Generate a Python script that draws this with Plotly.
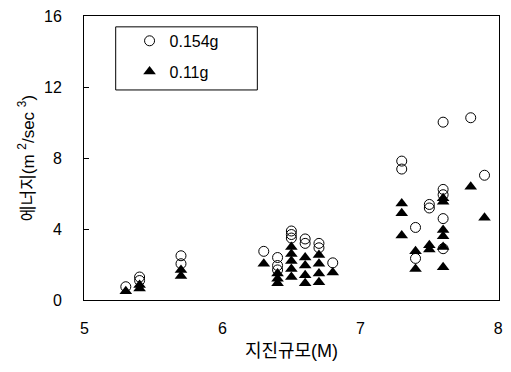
import plotly.graph_objects as go

# Earthquake magnitude (M) vs. energy (m^2/sec^3) for two PGA levels
mag_154 = [5.3, 5.4, 5.4, 5.7, 5.7, 6.3, 6.4, 6.4, 6.4, 6.5, 6.5, 6.5,
           6.6, 6.6, 6.7, 6.7, 6.8, 7.3, 7.3, 7.4, 7.4, 7.5, 7.5,
           7.6, 7.6, 7.6, 7.6, 7.6, 7.8, 7.9]
energy_154 = [0.75, 1.3, 1.1, 2.5, 2.05, 2.75, 2.4, 1.95, 1.7, 3.9, 3.7, 3.5,
              3.45, 3.2, 3.2, 2.95, 2.1, 7.85, 7.4, 4.1, 2.35, 5.4, 5.2,
              10.05, 6.25, 5.95, 4.6, 2.9, 10.3, 7.05]

mag_11 = [5.3, 5.4, 5.4, 5.7, 5.7, 6.3, 6.4, 6.4, 6.4, 6.5, 6.5, 6.5, 6.5, 6.5,
          6.6, 6.6, 6.6, 6.6, 6.7, 6.7, 6.7, 6.7, 6.8, 7.3, 7.3, 7.3,
          7.4, 7.4, 7.5, 7.5, 7.6, 7.6, 7.6, 7.6, 7.6, 7.6, 7.8, 7.9]
energy_11 = [0.5, 0.85, 0.65, 1.7, 1.35, 2.05, 1.5, 1.2, 0.95, 3.0, 2.6, 2.2, 1.75, 1.3,
             2.4, 1.95, 1.4, 0.95, 2.55, 2.05, 1.5, 1.0, 1.55, 5.45, 4.9, 3.65,
             2.75, 1.75, 3.1, 2.85, 5.75, 5.55, 3.95, 3.6, 3.0, 1.85, 6.4, 4.65]

x_ticks = [5, 6, 7, 8]
y_ticks = [0, 4, 8, 12, 16]

FONT = "Liberation Sans, Arial, Noto Sans CJK KR, sans-serif"

fig = go.Figure()
fig.add_trace(go.Scatter(
    x=mag_154, y=energy_154, mode="markers", name="0.154g",
    legendgroup="a",
    marker=dict(symbol="circle-open", size=10, color="black",
                line=dict(width=1, color="black")),
))
fig.add_trace(go.Scatter(
    x=mag_11, y=energy_11, mode="markers", name="0.11g",
    legendgroup="b",
    marker=dict(symbol="triangle-up", size=11, color="black"),
))

# legend frame
fig.add_shape(type="rect", xref="paper", yref="paper",
              x0=(116 - 84) / 419, x1=(259 - 84) / 419,
              y0=(300 - 87) / 288, y1=(300 - 23) / 288,
              line=dict(color="black", width=1), fillcolor="rgba(0,0,0,0)")

fig.update_layout(
    width=511, height=372,
    margin=dict(l=84, r=8, t=12, b=72),
    paper_bgcolor="white", plot_bgcolor="white",
    font=dict(family=FONT, size=15, color="black"),
    showlegend=True,
    legend=dict(x=(130 - 84) / 419, y=(300 - 20) / 288,
                xanchor="left", yanchor="top",
                bgcolor="rgba(0,0,0,0)", borderwidth=0,
                traceorder="grouped", tracegroupgap=7,
                font=dict(family=FONT, size=16),
                itemwidth=30),
    xaxis=dict(range=[4.997, 8.005], tickvals=x_ticks, ticks="",
               showgrid=False, zeroline=False, showline=True,
               linecolor="black", linewidth=1, mirror=True,
               tickfont=dict(size=16), ticklabelstandoff=14,
               title=dict(text="지진규모(M)", font=dict(size=18), standoff=8)),
    yaxis=dict(range=[0, 16.05], tickvals=y_ticks, ticks="inside", ticklen=5,
               tickcolor="black", showgrid=False, zeroline=False, showline=True,
               linecolor="black", linewidth=1, mirror=True,
               tickfont=dict(size=16), ticklabelstandoff=18,
               title=dict(text="에너지(m <sup>2</sup>/sec <sup>3</sup>)",
                          font=dict(size=17), standoff=5)),
)

fig.write_html("out.html")
